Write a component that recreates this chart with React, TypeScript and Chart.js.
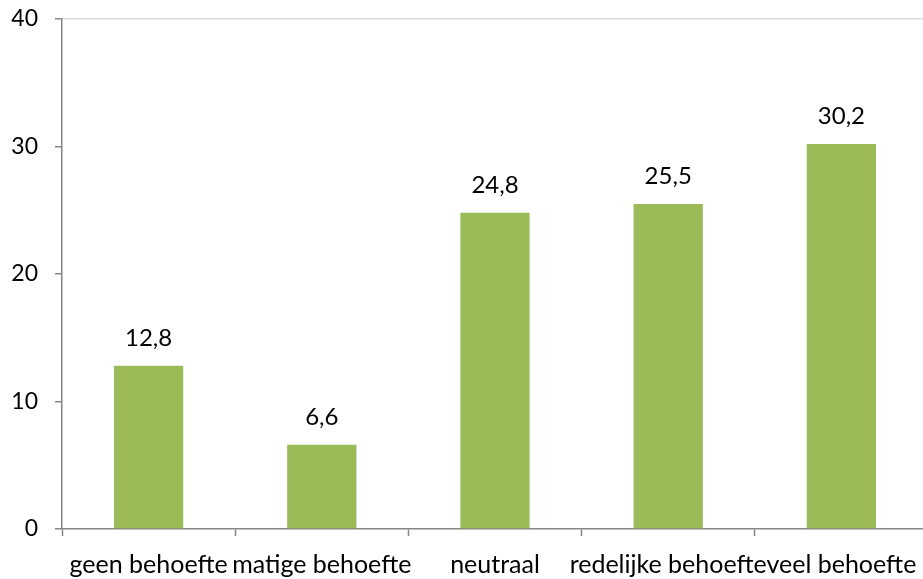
import React, { useEffect, useRef } from "react";
import { Chart, registerables } from "chart.js";

Chart.register(...registerables);

const categories = ["geen behoefte", "matige behoefte", "neutraal", "redelijke behoefte", "veel behoefte"];
const values = [12.8, 6.6, 24.8, 25.5, 30.2];
const yTicks = [0, 10, 20, 30, 40];

const FONT = "Lato, 'Open Sans', sans-serif";

const labelPlugin = {
  id: "valueLabels",
  afterDatasetsDraw(chart: any) {
    const ctx = chart.ctx;
    const meta = chart.getDatasetMeta(0);
    ctx.save();
    ctx.font = `24px ${FONT}`;
    ctx.fillStyle = "#000";
    ctx.textAlign = "center";
    ctx.textBaseline = "middle";
    meta.data.forEach((bar: any, i: number) => {
      const txt = values[i].toFixed(1).replace(".", ",");
      ctx.fillText(txt, bar.x, bar.y - 28);
    });
    ctx.restore();
  },
};

export default function App() {
  const ref = useRef<HTMLCanvasElement>(null);
  useEffect(() => {
    document.body.style.margin = "0";
    const chart = new Chart(ref.current!, {
      type: "bar",
      data: {
        labels: categories,
        datasets: [
          {
            data: values,
            backgroundColor: "#9BBB59",
            categoryPercentage: 1,
            barPercentage: 0.4,
          },
        ],
      },
      options: {
        animation: false,
        responsive: false,
        layout: { padding: { top: 19, right: 2, left: 0, bottom: 0 } },
        plugins: { legend: { display: false }, tooltip: { enabled: false } },
        scales: {
          x: {
            grid: {
              offset: true,
              drawOnChartArea: false,
              tickLength: 7,
              tickColor: "#868686",
              tickWidth: 1.5,
            },
            border: { color: "#868686", width: 1.5 },
            ticks: {
              color: "#000",
              font: { family: FONT, size: 25 },
              padding: 14,
              maxRotation: 0,
              autoSkip: false,
            },
            afterFit: (s: any) => {
              s.height = 50;
              s.paddingLeft = 0;
              s.paddingRight = 0;
            },
          },
          y: {
            min: 0,
            max: 40,
            afterBuildTicks: (s: any) => {
              s.ticks = yTicks.map((v) => ({ value: v }));
            },
            grid: {
              color: (c: any) => (c.tick && c.tick.value === 40 ? "#D9D9D9" : "rgba(0,0,0,0)"),
              lineWidth: 1.5,
              tickLength: 7,
              tickColor: "#868686",
              tickWidth: 1.5,
            },
            border: { color: "#868686", width: 1.5 },
            ticks: {
              color: "#000",
              font: { family: FONT, size: 23 },
              padding: 17,
            },
            afterFit: (s: any) => {
              s.width = 62;
              s.paddingTop = 0;
              s.paddingBottom = 0;
            },
          },
        },
      },
      plugins: [labelPlugin],
    });
    return () => chart.destroy();
  }, []);
  return (
    <div style={{ position: "fixed", left: 0, top: 0, width: 923, height: 579, overflow: "hidden", background: "#fff" }}>
      <canvas ref={ref} width={930} height={579} style={{ width: 930, height: 579, display: "block" }} />
    </div>
  );
}
